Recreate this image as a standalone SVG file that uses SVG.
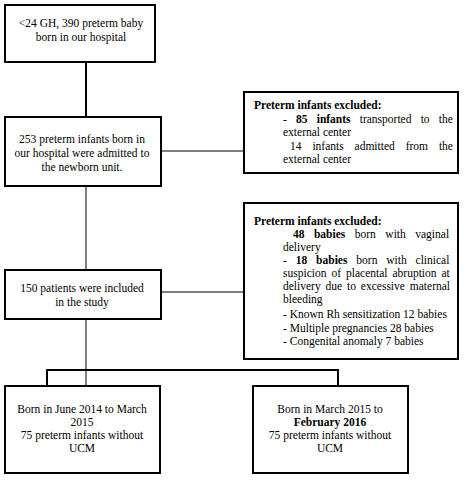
<svg xmlns="http://www.w3.org/2000/svg" width="466" height="487" viewBox="0 0 466 487">
<style>
  .box { fill: #ffffff; stroke: #000000; stroke-width: 2; }
  .ln { fill: none; stroke: #000000; stroke-width: 1; }
  .thick { fill: none; stroke: #000000; stroke-width: 2; }
  text { font-family: "Liberation Serif", "Times New Roman", serif; font-size: 11.5px; fill: #000000; }
  .c { text-anchor: middle; }
  .b { font-weight: bold; }
</style>
<rect width="466" height="487" fill="#ffffff"/>
<g id="connectors">
  <line class="thick" x1="86" y1="62" x2="86" y2="117"/>
  <line class="ln" x1="86" y1="186" x2="86" y2="270"/>
  <line class="ln" x1="161" y1="151" x2="244" y2="151"/>
  <line class="ln" x1="161" y1="292" x2="244" y2="292"/>
  <line class="ln" x1="86" y1="319" x2="86" y2="386"/>
  <polyline class="thick" points="47,386 47,370 338,370 338,386"/>
</g>
<g id="node-start">
  <rect class="box" x="5" y="5" width="150" height="57"/>
  <text class="c" x="81" y="27">&lt;24 GH, 390 preterm baby</text>
  <text class="c" x="81" y="41">born in our hospital</text>
</g>
<g id="node-admitted">
  <rect class="box" x="5" y="117" width="156" height="69"/>
  <text class="c" x="82" y="143">253 preterm infants born in</text>
  <text class="c" x="82" y="157">our hospital were admitted to</text>
  <text class="c" x="82" y="171">the newborn unit.</text>
</g>
<g id="node-excluded-1">
  <rect class="box" x="244" y="92" width="214" height="81"/>
  <text class="b" x="254" y="109">Preterm infants excluded:</text>
  <text x="283" y="123" style="word-spacing:6.3px">- <tspan class="b">85 infants</tspan> transported to the</text>
  <text x="283" y="136">external center</text>
  <text x="290" y="150" style="word-spacing:8px">14 infants admitted from the</text>
  <text x="283" y="163">external center</text>
</g>
<g id="node-included">
  <rect class="box" x="5" y="270" width="156" height="49"/>
  <text class="c" x="82" y="292">150 patients were included</text>
  <text class="c" x="82" y="306">in the study</text>
</g>
<g id="node-excluded-2">
  <rect class="box" x="244" y="203" width="214" height="156"/>
  <text class="b" x="254" y="225">Preterm infants excluded:</text>
  <text x="293" y="238" style="word-spacing:6.6px"><tspan class="b">48 babies</tspan> born with vaginal</text>
  <text x="283" y="251">delivery</text>
  <text x="283" y="264" style="word-spacing:6px">- <tspan class="b">18 babies</tspan> born with clinical</text>
  <text x="283" y="277" style="word-spacing:2.1px">suspicion of placental abruption at</text>
  <text x="283" y="290" style="word-spacing:2px">delivery due to excessive maternal</text>
  <text x="283" y="303">bleeding</text>
  <text x="283" y="318">- Known Rh sensitization 12 babies</text>
  <text x="283" y="332">- Multiple pregnancies 28 babies</text>
  <text x="283" y="345">- Congenital anomaly 7 babies</text>
</g>
<g id="node-group-1">
  <rect class="box" x="5" y="386" width="155" height="87"/>
  <text class="c" x="82" y="413">Born in June 2014 to March</text>
  <text class="c" x="82" y="426">2015</text>
  <text class="c" x="82" y="439">75 preterm infants without</text>
  <text class="c" x="82" y="452">UCM</text>
</g>
<g id="node-group-2">
  <rect class="box" x="253" y="386" width="155" height="87"/>
  <text class="c" x="330" y="413">Born in March 2015 to</text>
  <text class="c b" x="330" y="426">February 2016</text>
  <text class="c" x="330" y="439">75 preterm infants without</text>
  <text class="c" x="330" y="452">UCM</text>
</g>
</svg>
